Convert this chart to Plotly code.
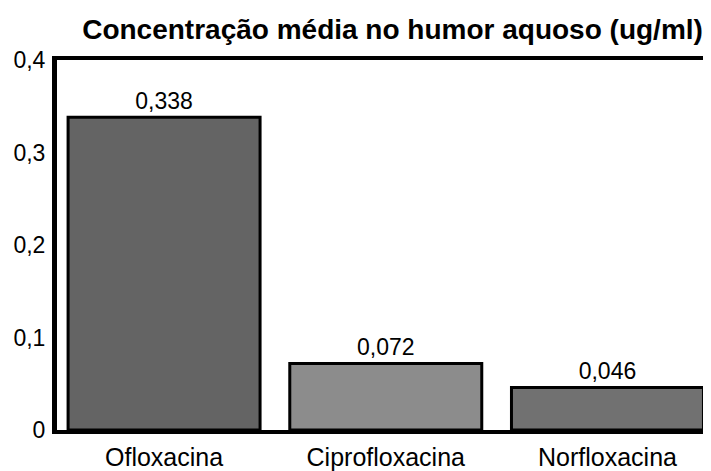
import plotly.graph_objects as go

categories = ["Ofloxacina", "Ciprofloxacina", "Norfloxacina"]
values = [0.338, 0.072, 0.046]
bar_colors = ["#646464", "#8c8c8c", "#717171"]
tick_vals = [0, 0.1, 0.2, 0.3, 0.4]
tick_text = ["0", "0,1", "0,2", "0,3", "0,4"]

FONT = "Liberation Sans, Arial, Helvetica, sans-serif"

fig = go.Figure(go.Bar(
    x=categories, y=values, width=0.866,
    marker=dict(color=bar_colors, line=dict(color="black", width=3)),
    texttemplate="%{y:.3f}", textposition="outside",
    textfont=dict(size=23, color="black", family=FONT),
    cliponaxis=False,
))

# the page body has an 8px margin, so the figure is 8px smaller on each side
fig.update_layout(
    width=703, height=463,
    margin=dict(l=49, r=0, t=52, b=35, pad=0),
    paper_bgcolor="white", plot_bgcolor="white",
    separators=",.",
    showlegend=False,
    title=dict(text="<b>Concentração média no humor aquoso (ug/ml)</b>",
               x=0.547, xanchor="center", y=0.955, yanchor="middle",
               font=dict(size=28, color="black", family=FONT)),
    font=dict(family=FONT, color="black"),
)
fig.update_xaxes(range=[-0.483, 2.467], showline=True, linecolor="black", linewidth=4,
                 mirror=True, ticks="", tickfont=dict(size=25, color="black"),
                 ticklabelstandoff=2, showgrid=False)
fig.update_yaxes(range=[0, 0.4], showline=True, linecolor="black", linewidth=5,
                 tickvals=tick_vals, ticktext=tick_text, ticks="",
                 ticklabelstandoff=2,
                 tickfont=dict(size=23, color="black"), showgrid=False, zeroline=False)

fig.write_html("out.html")
